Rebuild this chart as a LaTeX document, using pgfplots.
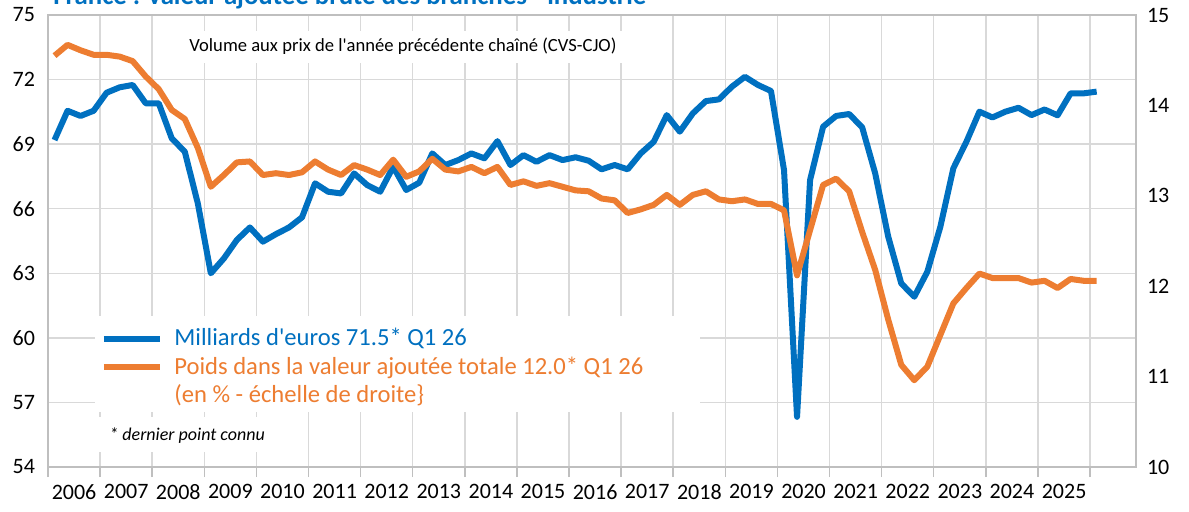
\documentclass[border=0pt]{standalone}
\usepackage{fontspec}
\setmainfont{Carlito}
\usepackage{pgfplots}
\usepackage{pgfplotstable}
\pgfplotsset{compat=1.18}
\definecolor{cblue}{RGB}{0,112,192}
\definecolor{corange}{RGB}{237,125,49}
\definecolor{cgrid}{RGB}{217,217,217}
\definecolor{cframe}{RGB}{191,191,191}

\pgfplotstableread{
t v
2006.125 69.19
2006.375 70.55
2006.625 70.31
2006.875 70.55
2007.125 71.39
2007.375 71.64
2007.625 71.75
2007.875 70.90
2008.125 70.90
2008.375 69.27
2008.625 68.65
2008.875 66.25
2009.125 63.00
2009.375 63.69
2009.625 64.55
2009.875 65.13
2010.125 64.47
2010.375 64.82
2010.625 65.13
2010.875 65.60
2011.125 67.18
2011.375 66.79
2011.625 66.71
2011.875 67.64
2012.125 67.10
2012.375 66.79
2012.625 67.95
2012.875 66.87
2013.125 67.21
2013.375 68.57
2013.625 68.03
2013.875 68.26
2014.125 68.57
2014.375 68.34
2014.625 69.14
2014.875 68.03
2015.125 68.49
2015.375 68.18
2015.625 68.49
2015.875 68.26
2016.125 68.39
2016.375 68.23
2016.625 67.83
2016.875 68.03
2017.125 67.83
2017.375 68.57
2017.625 69.11
2017.875 70.35
2018.125 69.58
2018.375 70.43
2018.625 71.00
2018.875 71.08
2019.125 71.67
2019.375 72.13
2019.625 71.75
2019.875 71.47
2020.125 67.80
2020.375 56.33
2020.625 67.33
2020.875 69.81
2021.125 70.31
2021.375 70.40
2021.625 69.78
2021.875 67.64
2022.125 64.70
2022.375 62.53
2022.625 61.91
2022.875 63.07
2023.125 65.16
2023.375 67.88
2023.625 69.11
2023.875 70.51
2024.125 70.24
2024.375 70.51
2024.625 70.69
2024.875 70.35
2025.125 70.61
2025.375 70.34
2025.625 71.36
2025.875 71.36
2026.125 71.44
}\bluedata

\pgfplotstableread{
t v
2006.125 14.55
2006.375 14.67
2006.625 14.61
2006.875 14.56
2007.125 14.56
2007.375 14.54
2007.625 14.49
2007.875 14.32
2008.125 14.18
2008.375 13.95
2008.625 13.85
2008.875 13.53
2009.125 13.10
2009.375 13.23
2009.625 13.37
2009.875 13.38
2010.125 13.23
2010.375 13.25
2010.625 13.23
2010.875 13.26
2011.125 13.38
2011.375 13.29
2011.625 13.23
2011.875 13.34
2012.125 13.29
2012.375 13.23
2012.625 13.40
2012.875 13.21
2013.125 13.27
2013.375 13.41
2013.625 13.29
2013.875 13.27
2014.125 13.32
2014.375 13.25
2014.625 13.32
2014.875 13.12
2015.125 13.16
2015.375 13.11
2015.625 13.14
2015.875 13.10
2016.125 13.06
2016.375 13.05
2016.625 12.97
2016.875 12.95
2017.125 12.81
2017.375 12.85
2017.625 12.90
2017.875 13.01
2018.125 12.90
2018.375 13.01
2018.625 13.05
2018.875 12.96
2019.125 12.94
2019.375 12.96
2019.625 12.91
2019.875 12.91
2020.125 12.84
2020.375 12.12
2020.625 12.62
2020.875 13.12
2021.125 13.19
2021.375 13.05
2021.625 12.60
2021.875 12.18
2022.125 11.63
2022.375 11.13
2022.625 10.96
2022.875 11.11
2023.125 11.46
2023.375 11.81
2023.625 11.98
2023.875 12.14
2024.125 12.09
2024.375 12.09
2024.625 12.09
2024.875 12.04
2025.125 12.06
2025.375 11.98
2025.625 12.08
2025.875 12.06
2026.125 12.06
}\orangedata

\begin{document}
\begin{tikzpicture}[x=1pt,y=1pt]
\begin{axis}[
  at={(0,0)}, anchor=south west,
  scale only axis, width=544pt, height=226pt,
  xmin=2006, xmax=2026.88, ymin=54, ymax=75,
  ytick={54,57,...,75},
  xtick={2006.5,2007.5,...,2025.5},
  xticklabels={2006,2007,2008,2009,2010,2011,2012,2013,2014,2015,2016,2017,2018,2019,2020,2021,2022,2023,2024,2025},
  minor xtick={2006,2007,...,2026},
  xtick pos=left, ytick pos=left,
  tick align=outside,
  major tick length=0pt,
  minor tick length=5pt,
  ymajorgrids, xminorgrids,
  major grid style={cgrid, line width=0.75pt},
  minor grid style={cgrid, line width=0.75pt},
  axis line style={cframe, line width=0.75pt},
  major tick style={draw=none},
  minor tick style={cframe, line width=0.75pt},
  ticklabel style={font=\fontsize{11}{13}\selectfont, text=black},
  /pgf/number format/assume math mode=true,
  yticklabel style={xshift=-3pt},
  xticklabel style={yshift=-8.5pt, inner sep=0pt},
]
\addplot[cblue, line width=3pt, line join=round] table[x=t,y=v] {\bluedata};
\end{axis}
\begin{axis}[
  at={(0,0)}, anchor=south west,
  scale only axis, width=544pt, height=226pt,
  xmin=2006, xmax=2026.88, ymin=10, ymax=15,
  ytick={10,11,...,15},
  axis y line*=right, hide x axis,
  axis line style={cframe, line width=0.75pt},
  major tick style={draw=none},
  ticklabel style={font=\fontsize{11}{13}\selectfont, text=black},
  /pgf/number format/assume math mode=true,
  yticklabel style={xshift=2pt},
]
\addplot[corange, line width=3pt, line join=round] table[x=t,y=v] {\orangedata};
\end{axis}
% subtitle box
\fill[white] (63.5,202) rectangle (288.5,218);
\node[anchor=base west, inner sep=0pt, font=\fontsize{9.3}{11}\selectfont] at (70.5,208) {Volume aux prix de l\textquotesingle année précédente chaîné (CVS-CJO)};
% legend box
\fill[white] (23.5,27.5) rectangle (326,75.5);
\draw[cblue, line width=3pt] (28,64) -- (56,64);
\draw[corange, line width=3pt] (28,50) -- (56,50);
\node[anchor=base west, inner sep=0pt, text=cblue, font=\fontsize{12.3}{14}\selectfont] at (63,61) {Milliards d\textquotesingle euros 71.5* Q1 26};
\node[anchor=base west, inner sep=0pt, text=corange, font=\fontsize{12.3}{14}\selectfont] at (63,46.5) {Poids dans la valeur ajoutée totale 12.0* Q1 26};
\node[anchor=base west, inner sep=0pt, text=corange, font=\fontsize{12.3}{14}\selectfont] at (63,32.5) {(en \% - échelle de droite\}};
% note box
\fill[white] (23.5,7.5) rectangle (116,25);
\node[anchor=base west, inner sep=0pt, font=\itshape\fontsize{9}{11}\selectfont] at (30.5,13.5) {* dernier point connu};
% title (cut at the top, as in the reference)
\node[anchor=base west, inner sep=0pt, text=cblue, font=\bfseries\fontsize{13.4}{15}\selectfont] at (2.5,231.5) {France : valeur ajoutée brute des branches - industrie};
\pgfresetboundingbox
\useasboundingbox (-24,-22) rectangle (570.5,233.5);
\end{tikzpicture}
\end{document}
